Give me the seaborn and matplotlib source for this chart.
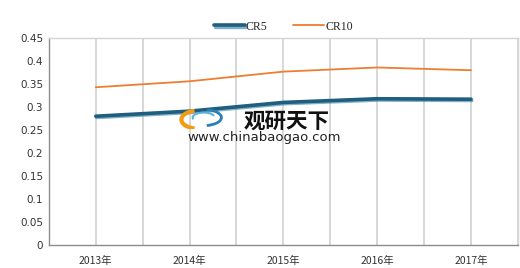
import matplotlib
matplotlib.use("Agg")
import matplotlib.pyplot as plt
import matplotlib.patheffects as pe
from matplotlib.patches import Arc
import seaborn as sns
import pandas as pd

years = ["2013年", "2014年", "2015年", "2016年", "2017年"]
cr5 = [0.280, 0.291, 0.310, 0.318, 0.317]
cr10 = [0.343, 0.356, 0.377, 0.386, 0.380]
y_ticks = [0, 0.05, 0.1, 0.15, 0.2, 0.25, 0.3, 0.35, 0.4, 0.45]
y_labels = ["0", "0.05", "0.1", "0.15", "0.2", "0.25", "0.3", "0.35", "0.4", "0.45"]

sns.set_style("white")
plt.rcParams['font.family'] = ['Noto Sans CJK SC', 'DejaVu Sans']

df = pd.DataFrame({"year": years * 2,
                   "value": cr5 + cr10,
                   "series": ["CR5"] * len(years) + ["CR10"] * len(years)})
df["x"] = list(range(len(years))) * 2

fig = plt.figure(figsize=(5.2, 2.68), dpi=100)
ax = fig.add_axes([0.094, 0.086, 0.902, 0.772])

# grid lines at categories and midpoints
for i in range(0, 2 * len(years) + 1):
    ax.axvline(-0.5 + i * 0.5, color="#d4d4d4", lw=1.3, zorder=0)

d5 = df[df.series == "CR5"]
d10 = df[df.series == "CR10"]
sns.lineplot(data=d10, x="x", y="value", ax=ax, color="#ed7d31", lw=1.3,
             label="CR10", zorder=3)
sns.lineplot(data=d5, x="x", y="value", ax=ax, color="#1f5e7e", lw=2.6,
             label="CR5", zorder=4,
             path_effects=[pe.SimpleLineShadow(offset=(0.6, -1.0), shadow_color="#4a90b0", alpha=0.7, linewidth=2.4),
                           pe.Normal()])

ax.set_xlim(-0.5, 4.5)
ax.set_ylim(0, 0.45)
ax.set_xticks(range(len(years)))
ax.set_xticklabels(years, fontsize=7.5, color="#333333")
ax.set_yticks(y_ticks)
ax.set_yticklabels(y_labels, fontsize=7.5, color="#333333", family=['DejaVu Sans'])
ax.set_xlabel("")
ax.set_ylabel("")
ax.tick_params(axis="both", length=0, pad=4)
ax.tick_params(axis="x", pad=8)

for s in ["top", "right"]:
    ax.spines[s].set_color("#d4d4d4")
    ax.spines[s].set_linewidth(1.0)
for s in ["left", "bottom"]:
    ax.spines[s].set_color("#8c8c8c")
    ax.spines[s].set_linewidth(1.0)

handles, labels = ax.get_legend_handles_labels()
order = [labels.index("CR5"), labels.index("CR10")]
leg = ax.legend([handles[i] for i in order], [labels[i] for i in order],
                loc="lower center", bbox_to_anchor=(0.5, 0.975), ncol=2, frameon=False,
                handlelength=2.6, columnspacing=2.2, handletextpad=0.1,
                prop={"family": ["Liberation Serif"], "size": 8.5})

# watermark
fig.text(0.552, 0.548, "观研天下", fontsize=15.5, fontweight="bold", color="#111111",
         ha="center", va="center", family=["Noto Sans CJK SC"])
fig.text(0.508, 0.488, "www.chinabaogao.com", fontsize=9.5, color="#222222",
         ha="center", va="center", family=["DejaVu Sans"])
lax = fig.add_axes([0.345, 0.52, 0.085, 0.075])
lax.set_xlim(0, 1); lax.set_ylim(0, 1); lax.axis("off")
lax.add_patch(Arc((0.42, 0.45), 0.75, 0.9, theta1=100, theta2=260, color="#f39c12", lw=3))
lax.add_patch(Arc((0.55, 0.55), 0.8, 0.8, theta1=-80, theta2=80, color="#2a7fb8", lw=2))
lax.add_patch(Arc((0.55, 0.55), 0.5, 0.5, theta1=20, theta2=200, color="#5fb0d8", lw=1.5))

fig.savefig("out.png", dpi=100)
